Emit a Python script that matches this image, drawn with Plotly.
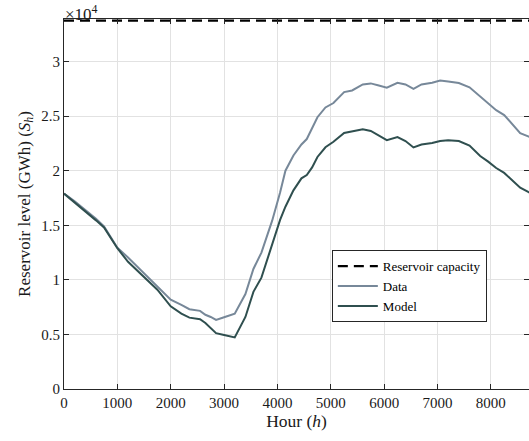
import plotly.graph_objects as go

# Hours and reservoir levels (units of 10^4 GWh)
hours = [0, 200, 400, 600, 750, 900, 1000, 1200, 1400, 1550, 1750, 2000, 2200, 2350,
         2550, 2650, 2750, 2850, 3000, 3200, 3400, 3550, 3700, 3900, 4050, 4150, 4300,
         4450, 4550, 4650, 4750, 4900, 5050, 5250, 5400, 5600, 5750, 5900, 6050, 6250,
         6400, 6550, 6700, 6900, 7050, 7200, 7400, 7600, 7800, 7950, 8100, 8250, 8400,
         8550, 8700, 8760]

data_level = [1.79, 1.72, 1.64, 1.56, 1.49, 1.375, 1.295, 1.205, 1.11, 1.04, 0.94, 0.818,
              0.77, 0.731, 0.716, 0.68, 0.66, 0.633, 0.658, 0.69, 0.87, 1.10, 1.25, 1.54,
              1.80, 2.00, 2.14, 2.24, 2.29, 2.39, 2.49, 2.58, 2.62, 2.72, 2.735, 2.79, 2.80,
              2.78, 2.76, 2.806, 2.79, 2.75, 2.79, 2.806, 2.827, 2.818, 2.803, 2.764, 2.68,
              2.617, 2.555, 2.51, 2.43, 2.345, 2.315, 2.30]

model_level = [1.79, 1.71, 1.625, 1.545, 1.48, 1.365, 1.29, 1.165, 1.075, 1.0, 0.91, 0.757,
               0.69, 0.654, 0.64, 0.605, 0.56, 0.512, 0.494, 0.472, 0.66, 0.89, 1.02, 1.33,
               1.55, 1.67, 1.82, 1.93, 1.96, 2.03, 2.126, 2.215, 2.265, 2.346, 2.361, 2.379,
               2.364, 2.325, 2.28, 2.309, 2.272, 2.213, 2.24, 2.254, 2.272, 2.279, 2.272,
               2.23, 2.135, 2.083, 2.025, 1.98, 1.912, 1.845, 1.805, 1.79]

capacity_x = [0, 8760]
capacity_level = [3.375, 3.375]

x_ticks = [0, 1000, 2000, 3000, 4000, 5000, 6000, 7000, 8000]
y_ticks = [0, 0.5, 1, 1.5, 2, 2.5, 3]
y_ticktext = ["0", "0.5", "1", "1.5", "2", "2.5", "3"]

FONT = "Liberation Serif"
AXC = "#262626"

fig = go.Figure()
fig.add_trace(go.Scatter(x=capacity_x, y=capacity_level, mode="lines",
                         name="Reservoir capacity",
                         line=dict(color="black", width=2.2, dash="10px,6px")))
fig.add_trace(go.Scatter(x=hours, y=data_level, mode="lines", name="Data",
                         line=dict(color="#778899", width=2)))
fig.add_trace(go.Scatter(x=hours, y=model_level, mode="lines", name="Model",
                         line=dict(color="#2F4F4F", width=2)))

axis_common = dict(showline=True, linecolor=AXC, linewidth=1, mirror="ticks",
                   ticks="inside", ticklen=5, tickcolor=AXC,
                   showgrid=True, gridcolor="#e2e2e2", gridwidth=1,
                   zeroline=False, tickfont=dict(family=FONT, size=15, color="#1a1a1a"))

fig.update_layout(
    width=529, height=441,
    margin=dict(l=64, r=0, t=19, b=52),
    plot_bgcolor="white", paper_bgcolor="white",
    font=dict(family=FONT, color="#1a1a1a"),
    xaxis=dict(range=[0, 8715], tickvals=x_ticks,
               title=dict(text="Hour (<i>h</i>)", font=dict(family=FONT, size=17.5), standoff=4),
               **axis_common),
    yaxis=dict(range=[0, 3.39], tickvals=y_ticks, ticktext=y_ticktext,
               title=dict(text="Reservoir level (GWh) (<i>S</i><sub><i>h</i></sub>)",
                          font=dict(family=FONT, size=17), standoff=6),
               **axis_common),
    legend=dict(x=0.576, y=0.375, xanchor="left", yanchor="top",
                bgcolor="white", bordercolor="#262626", borderwidth=1,
                font=dict(family=FONT, size=13, color="black"),
                tracegroupgap=0, itemwidth=40),
    showlegend=True,
)

fig.add_annotation(text="×10<sup>4</sup>", xref="paper", yref="paper", x=0.0, y=1.0,
                   xanchor="center", yanchor="bottom", align="center", showarrow=False,
                   xshift=17, yshift=-7,
                   font=dict(family=FONT, size=17, color="#1a1a1a"))

fig.write_html("out.html")
